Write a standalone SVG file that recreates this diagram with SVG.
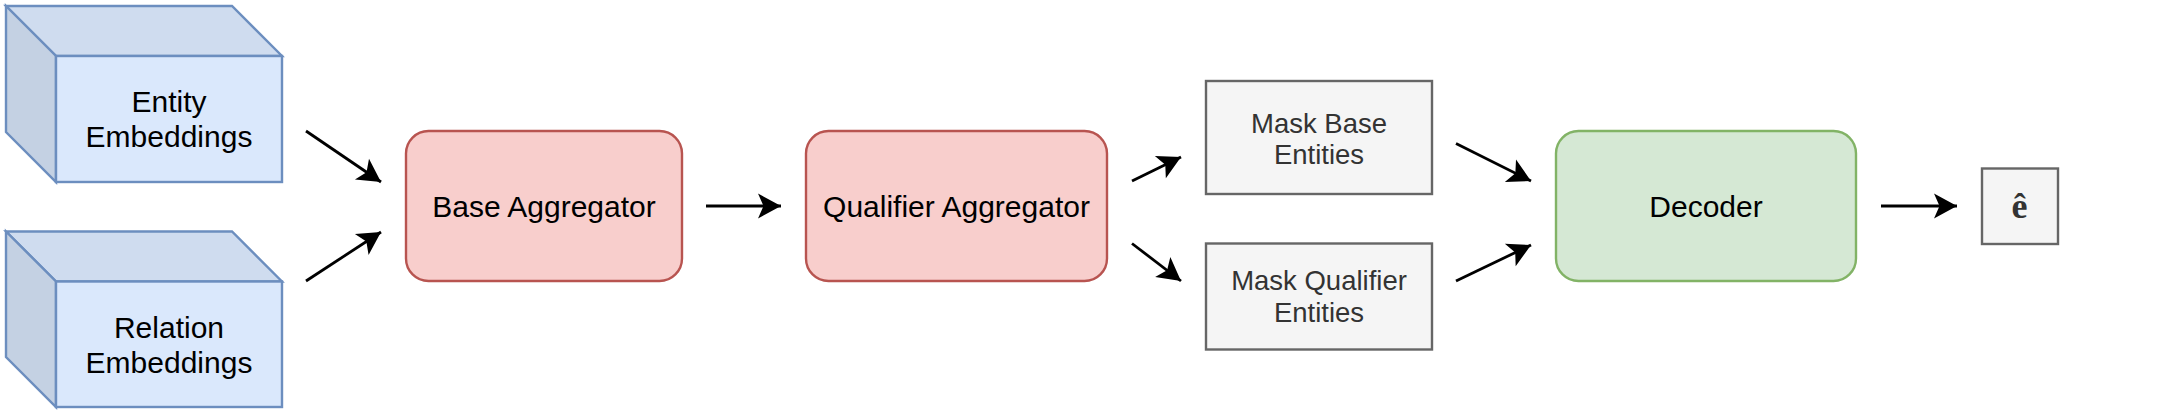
<svg xmlns="http://www.w3.org/2000/svg" width="2163" height="413" viewBox="0 0 2163 413">
  <style>
    .cube { stroke: #6c8ebf; stroke-width: 2.4; stroke-linejoin: miter; }
    .front { fill: #dae8fc; }
    .top { fill: #cfdcef; }
    .side { fill: #c4d1e3; }
    .red { fill: #f8cecc; stroke: #b85450; stroke-width: 2.4; }
    .green { fill: #d5e8d4; stroke: #82b366; stroke-width: 2.4; }
    .gray { fill: #f5f5f5; stroke: #666666; stroke-width: 2.4; }
    .lbl { font-family: "Liberation Sans", Arial, sans-serif; font-size: 30px; fill: #000000; text-anchor: middle; }
    .lbl2 { font-family: "Liberation Sans", Arial, sans-serif; font-size: 27.5px; fill: #333333; text-anchor: middle; }
    .math { font-family: "Liberation Serif", "Times New Roman", serif; font-size: 36px; font-weight: bold; fill: #333333; text-anchor: middle; }
    .edge { fill: none; stroke: #000000; stroke-width: 2.8; }
  </style>
  <defs>
    <marker id="arrow" markerUnits="userSpaceOnUse" markerWidth="28" markerHeight="28" refX="25" refY="14" orient="auto">
      <path d="M25,14 L2,1.5 L7.5,14 L2,26.5 Z" fill="#000000"/>
    </marker>
  </defs>
  <rect width="2163" height="413" fill="#ffffff"/>

  <g id="entity-embeddings">
    <polygon class="cube top" points="6,6 232,6 282,56 56,56"/>
    <polygon class="cube side" points="6,6 56,56 56,182 6,132"/>
    <rect class="cube front" x="56" y="56" width="226" height="126"/>
    <text class="lbl" x="169" y="112">Entity</text>
    <text class="lbl" x="169" y="147">Embeddings</text>
  </g>

  <g id="relation-embeddings">
    <polygon class="cube top" points="6,231.5 232,231.5 282,281.5 56,281.5"/>
    <polygon class="cube side" points="6,231.5 56,281.5 56,407 6,357"/>
    <rect class="cube front" x="56" y="281.5" width="226" height="125.5"/>
    <text class="lbl" x="169" y="337.5">Relation</text>
    <text class="lbl" x="169" y="372.5">Embeddings</text>
  </g>

  <g id="base-aggregator">
    <rect class="red" x="406" y="131" width="276" height="150" rx="22.5" ry="22.5"/>
    <text class="lbl" x="544" y="217">Base Aggregator</text>
  </g>

  <g id="qualifier-aggregator">
    <rect class="red" x="806" y="131" width="301" height="150" rx="22.5" ry="22.5"/>
    <text class="lbl" x="956.5" y="217">Qualifier Aggregator</text>
  </g>

  <g id="mask-base-entities">
    <rect class="gray" x="1206" y="81" width="226" height="113"/>
    <text class="lbl2" x="1319" y="133">Mask Base</text>
    <text class="lbl2" x="1319" y="164">Entities</text>
  </g>

  <g id="mask-qualifier-entities">
    <rect class="gray" x="1206" y="243.5" width="226" height="106"/>
    <text class="lbl2" x="1319" y="289.5">Mask Qualifier</text>
    <text class="lbl2" x="1319" y="321.5">Entities</text>
  </g>

  <g id="decoder">
    <rect class="green" x="1556" y="131" width="300" height="150" rx="22.5" ry="22.5"/>
    <text class="lbl" x="1706" y="217">Decoder</text>
  </g>

  <g id="output-e-hat">
    <rect class="gray" x="1982" y="168.5" width="76" height="75.5"/>
    <text class="math" x="2019.5" y="217.5">ê</text>
  </g>

  <g id="connectors">
    <line class="edge" x1="306" y1="131" x2="381" y2="182" marker-end="url(#arrow)"/>
    <line class="edge" x1="306" y1="281" x2="381" y2="232" marker-end="url(#arrow)"/>
    <line class="edge" x1="706" y1="206" x2="781" y2="206" marker-end="url(#arrow)"/>
    <line class="edge" x1="1132" y1="181" x2="1181" y2="157" marker-end="url(#arrow)"/>
    <line class="edge" x1="1132" y1="243.5" x2="1181" y2="281" marker-end="url(#arrow)"/>
    <line class="edge" x1="1456" y1="143.5" x2="1531" y2="181" marker-end="url(#arrow)"/>
    <line class="edge" x1="1456" y1="281" x2="1531" y2="245" marker-end="url(#arrow)"/>
    <line class="edge" x1="1881" y1="206" x2="1957" y2="206" marker-end="url(#arrow)"/>
  </g>
</svg>
